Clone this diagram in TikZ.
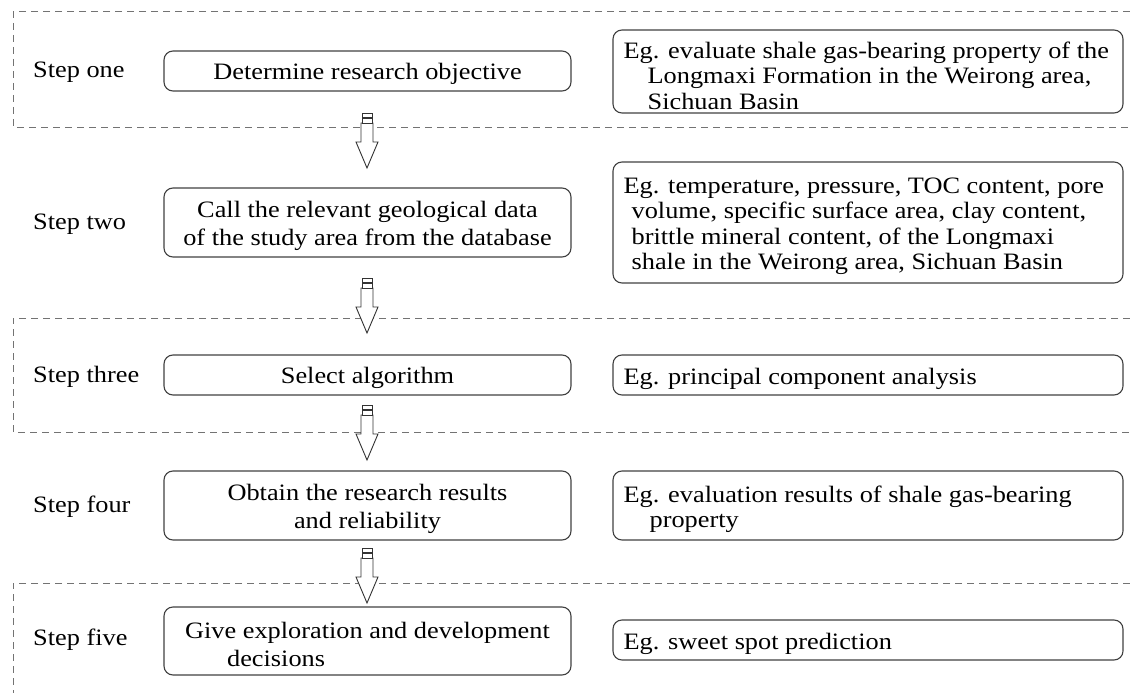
\documentclass[tikz,border=0pt]{standalone}
\usepackage{fontspec}
\setmainfont{Liberation Serif}[FakeStretch=1.12]
\begin{document}
\begin{tikzpicture}[x=1pt,y=-1pt,
  box/.style={draw=black!75, line width=1.1pt, rounded corners=9pt, inner sep=0pt},
  dashline/.style={draw=black!55, line width=1pt, dash pattern=on 7pt off 5pt},
  lbl/.style={anchor=west, inner sep=0pt, yshift=-2pt, font=\fontsize{23.5}{28}\selectfont},
  ltxt/.style={align=center, inner sep=0pt, yshift=-3pt, font=\fontsize{23.5}{28}\selectfont},
  rtxt/.style={align=left, anchor=west, inner sep=0pt, yshift=-4pt, font=\fontsize{23.5}{25.5}\selectfont},
  barrow/.style={draw=black!80, line width=0.9pt, fill=white},
  pics/blockarrow/.style={code={
    \draw[barrow] (-6,10) -- (-6,29) -- (-11,29) -- (0,55) -- (11,29) -- (6,29) -- (6,10) -- cycle;
    \draw[barrow] (-5,0) rectangle (5,4.5);
    \draw[barrow] (-5,5.5) rectangle (5,10);
  }}]
\useasboundingbox (0,0) rectangle (1130,693);

% dashed step regions
\draw[dashline] (1130,12) -- (13,12) -- (13,127) -- (1130,127);
\draw[dashline] (1130,318) -- (13,318) -- (13,432) -- (1130,432);
\draw[dashline] (1130,583) -- (13,583) -- (13,693);

% step labels
\node[lbl] (s1) at (33,70) {Step one};
\node[lbl] (s2) at (33,222) {Step two};
\node[lbl] (s3) at (33,375) {Step three};
\node[lbl] (s4) at (33,505) {Step four};
\node[lbl] (s5) at (33,638) {Step five};

% left boxes
\node[box, minimum width=407, minimum height=40] (b1) at (367.5,71) {};
\node[ltxt] at (b1) {Determine research objective};
\node[box, minimum width=407, minimum height=69] (b2) at (367.5,222.5) {};
\node[ltxt] at (b2) {Call the relevant geological data\\of the study area from the database};
\node[box, minimum width=407, minimum height=40] (b3) at (367.5,375) {};
\node[ltxt] at (b3) {Select algorithm};
\node[box, minimum width=407, minimum height=69] (b4) at (367.5,505.5) {};
\node[ltxt] at (b4) {Obtain the research results\\and reliability};
\node[box, minimum width=407, minimum height=68] (b5) at (367.5,641) {};
\node[ltxt, align=left] at (b5) {Give exploration and development\\\hspace*{42pt}decisions};

% right boxes
\node[box, minimum width=510, minimum height=83] (r1) at (868,71.5) {};
\node[rtxt] at ([xshift=11pt]r1.west) {Eg. evaluate shale gas-bearing property of the\\\hspace*{24pt}Longmaxi Formation in the Weirong area,\\\hspace*{24pt}Sichuan Basin};
\node[box, minimum width=510, minimum height=121] (r2) at (868,222.5) {};
\node[rtxt] at ([xshift=11pt]r2.west) {Eg. temperature, pressure, TOC content, pore\\\hspace*{8pt}volume, specific surface area, clay content,\\\hspace*{8pt}brittle mineral content, of the Longmaxi\\\hspace*{8pt}shale in the Weirong area, Sichuan Basin};
\node[box, minimum width=510, minimum height=40] (r3) at (868,375) {};
\node[rtxt] at ([xshift=11pt]r3.west) {Eg. principal component analysis};
\node[box, minimum width=510, minimum height=69] (r4) at (868,505.5) {};
\node[rtxt] at ([xshift=11pt]r4.west) {Eg. evaluation results of shale gas-bearing\\\hspace*{26pt}property};
\node[box, minimum width=510, minimum height=40] (r5) at (868,640) {};
\node[rtxt] at ([xshift=11pt]r5.west) {Eg. sweet spot prediction};

% block arrows between steps
\pic at (367,113) {blockarrow};
\pic at (367,278) {blockarrow};
\pic at (367,405) {blockarrow};
\pic at (367,548) {blockarrow};
\end{tikzpicture}
\end{document}
